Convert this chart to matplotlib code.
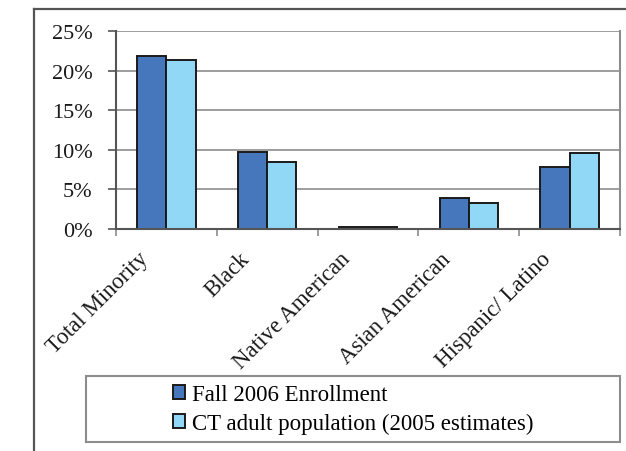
import matplotlib.pyplot as plt
import matplotlib.transforms as mtransforms
from matplotlib.patches import Rectangle
from matplotlib.lines import Line2D
import numpy as np

plt.rcParams['font.family'] = ['Liberation Serif', 'DejaVu Serif']

# Minority share by group
categories = ['Total Minority', 'Black', 'Native American', 'Asian American', 'Hispanic/ Latino']
enrollment = [21.9, 9.75, 0.2, 3.95, 7.8]
ct_adult = [21.4, 8.5, 0.2, 3.25, 9.55]
series_names = ['Fall 2006 Enrollment', 'CT adult population (2005 estimates)']

W, H = 626, 452
fig = plt.figure(figsize=(W / 100, H / 100), dpi=100)

# plot area in pixel terms
left, right, top, bottom = 116, 620, 32, 230
ax = fig.add_axes([left / W, 1 - bottom / H, (right - left) / W, (bottom - top) / H])

dark = '#4677BD'
light = '#90D8F6'
grid_c = '#8c8c8c'
axis_c = '#555555'

x = np.arange(len(categories))
bw = 0.29
ax.bar(x - bw / 2, enrollment, bw, color=dark, edgecolor='#1a1a1a', linewidth=1.4,
       label=series_names[0], zorder=3)
ax.bar(x + bw / 2, ct_adult, bw, color=light, edgecolor='#1a1a1a', linewidth=1.4,
       label=series_names[1], zorder=3)

ax.set_xlim(-0.5, len(categories) - 0.5)
ax.set_ylim(0, 25)
ax.set_yticks(np.arange(0, 26, 5))
ax.set_yticklabels([f'{v}%' for v in range(0, 26, 5)])
ax.yaxis.grid(True, color=grid_c, linewidth=1.2, zorder=0)

# category boundary ticks, labels drawn separately
ax.set_xticks(np.arange(-0.5, len(categories), 1.0))
ax.set_xticklabels([])
ax.tick_params(axis='x', direction='out', length=5, width=1.2, color=grid_c)
ax.tick_params(axis='y', direction='out', length=6, width=1.2, color=axis_c,
               labelsize=16, pad=11, labelcolor='#1a1a1a')

ax.spines['top'].set_visible(False)
ax.spines['right'].set_color(grid_c)
ax.spines['right'].set_linewidth(1.5)
ax.spines['left'].set_color(axis_c)
ax.spines['left'].set_linewidth(1.5)
ax.spines['bottom'].set_color(axis_c)
ax.spines['bottom'].set_linewidth(1.5)
ax.spines['bottom'].set_zorder(4)

trans = mtransforms.offset_copy(ax.get_xaxis_transform(), fig=fig, x=-14, y=-19, units='dots')
for i, name in enumerate(categories):
    ax.text(i, 0, name, transform=trans, rotation=45, ha='right', va='top',
            fontsize=16.5, color='#1a1a1a')

# outer chart frame
fig.add_artist(Line2D([34 / W, 34 / W], [0, 1 - 10 / H], transform=fig.transFigure,
                      color=axis_c, linewidth=1.6))
fig.add_artist(Line2D([34 / W, 1], [1 - 10 / H, 1 - 10 / H], transform=fig.transFigure,
                      color=axis_c, linewidth=1.6))

# legend box
lx0, lx1, ly0, ly1 = 86, 620, 377, 443
fig.add_artist(Rectangle((lx0 / W, 1 - ly1 / H), (lx1 - lx0) / W, (ly1 - ly0) / H,
                         transform=fig.transFigure, fill=False, edgecolor=grid_c,
                         linewidth=1.5))
handles, labels = ax.get_legend_handles_labels()
fig.legend(handles, labels, loc='center',
           bbox_to_anchor=((lx0 + lx1) / 2 / W, 1 - (ly0 + ly1) / 2 / H),
           frameon=False, fontsize=16.5, handlelength=0.55, handleheight=0.55,
           handletextpad=0.3, labelspacing=0.32, borderpad=0)

fig.savefig('out.png', dpi=100)
